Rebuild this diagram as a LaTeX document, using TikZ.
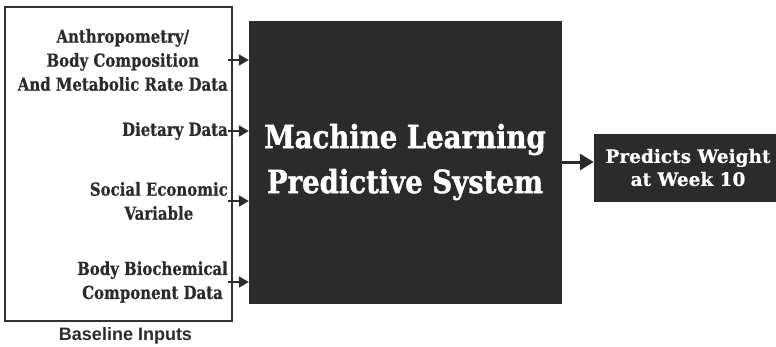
\documentclass[tikz,border=0pt]{standalone}
\usepackage{fontspec}
\usetikzlibrary{arrows.meta}
\newfontfamily\slabfont[FakeStretch=0.83, BoldFeatures={FakeBold=0.6}]{DejaVu Serif}
\newfontfamily\titlefont[FakeStretch=0.86, BoldFeatures={FakeBold=1.2}]{DejaVu Serif}
\newfontfamily\outfont[FakeStretch=1.0, BoldFeatures={FakeBold=0.5}]{DejaVu Serif}
\newfontfamily\capfont{Liberation Sans}
\definecolor{boxdark}{HTML}{2B2B2B}
\definecolor{edgedark}{HTML}{333333}
\tikzset{
  inlabel/.style={anchor=east, inner sep=0pt, align=center, text=boxdark,
    font=\slabfont\bfseries\fontsize{18}{24}\selectfont},
  darkbox/.style={fill=boxdark, draw=boxdark, inner sep=0pt},
  inarrow/.style={draw=boxdark, line width=2pt, -{Triangle[length=10pt,width=11pt]}},
  outarrow/.style={draw=boxdark, line width=3pt, -{Triangle[length=14pt,width=16pt]}},
}
\begin{document}
\begin{tikzpicture}[x=1pt,y=-1pt]
\useasboundingbox (0,0) rectangle (776,346);
% inputs frame
\node[draw=edgedark, line width=2pt, minimum width=227pt, minimum height=314pt, inner sep=0pt] (inputs) at (118,163.5) {};
\node[font=\capfont\bfseries\fontsize{18}{22}\selectfont, text=boxdark, inner sep=0pt, anchor=base] (cap) at (125.5,340) {Baseline Inputs};
% input labels
\node[inlabel] (t1) at (228,60) {Anthropometry/\\Body Composition\\And Metabolic Rate Data};
\node[inlabel] (t2) at (228,131) {Dietary Data};
\node[inlabel] (t3) at (228,201) {Social Economic\\Variable};
\node[inlabel] (t4) at (228,282) {Body Biochemical\\Component Data};
% machine learning box
\node[darkbox, minimum width=312pt, minimum height=282pt, text=white, align=center,
  font=\titlefont\bfseries\fontsize{32}{45}\selectfont] (ml) at (405,162) {Machine Learning\\Predictive System};
% output box
\node[darkbox, minimum width=188pt, minimum height=67pt, text=white, align=center,
  font=\outfont\bfseries\fontsize{18.5}{23}\selectfont] (out) at (688,167.5) {Predicts Weight\\at Week 10};
% arrows
\draw[inarrow] (t1.east) -- (t1.east -| ml.west);
\draw[inarrow] (t2.east) -- (t2.east -| ml.west);
\draw[inarrow] (t3.east) -- (t3.east -| ml.west);
\draw[inarrow] (t4.east) -- (t4.east -| ml.west);
\coordinate (mlout) at (ml.east |- 0,162);
\draw[outarrow] (mlout) -- (mlout -| out.west);
\end{tikzpicture}
\end{document}
